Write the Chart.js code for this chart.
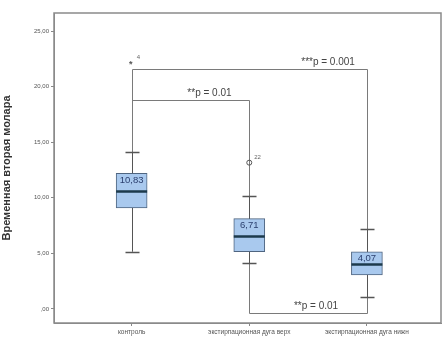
<!DOCTYPE html>
<html><head><meta charset="utf-8">
<script src="https://cdn.jsdelivr.net/npm/chart.js@4.4.0/dist/chart.umd.min.js"></script>
<style>html,body{margin:0;padding:0;background:#fff}#wrap{width:444px;height:340px}</style>
</head><body><div id="wrap"><canvas id="c" width="444" height="340"></canvas></div>
<script>
const categories = ['контроль', 'экстирпационная дуга верх', 'экстирпационная дуга нижн'];
const whiskerLow = [5.15, 4.1, 1.05];
const q1 = [9.1, 5.15, 3.06];
const median = [10.64, 6.6, 4.05];
const q3 = [12.2, 8.12, 5.15];
const whiskerHigh = [14.15, 10.16, 7.17];
const boxLabels = ['10,83', '6,71', '4,07'];
const outlierCat = [1, 2];
const outlierVal = [22.2, 13.16];
const outlierTag = ['4', '22'];
const outlierShape = ['star', 'circle'];
const bracketFrom = [1, 1, 2];
const bracketTo = [3, 2, 3];
const bracketY = [21.6, 18.8, -0.39];
const bracketText = ['***p = 0.001', '**p = 0.01', '**p = 0.01'];
const yTickValues = [0, 5, 10, 15, 20, 25];
const yTickLabels = [',00', '5,00', '10,00', '15,00', '20,00', '25,00'];
const yTitle = 'Временная вторая молара';

const lineCol = '#7a7a7a';

const boxPlugin = {
  id: 'boxplot',
  beforeDatasetsDraw(chart) {
    const {ctx, scales: {x, y}} = chart;
    ctx.save();
    ctx.strokeStyle = lineCol; ctx.lineWidth = 1;
    for (let i = 0; i < bracketY.length; i++) {
      const xa = Math.round(x.getPixelForValue(bracketFrom[i])) + 0.5;
      const xb = Math.round(x.getPixelForValue(bracketTo[i])) + 0.5;
      const yy = Math.round(y.getPixelForValue(bracketY[i])) + 0.5;
      const ia = bracketFrom[i] - 1, ib = bracketTo[i] - 1;
      const below = bracketY[i] < whiskerLow[ia];
      const ea = y.getPixelForValue(below ? whiskerLow[ia] : whiskerHigh[ia]);
      const eb = y.getPixelForValue(below ? whiskerLow[ib] : whiskerHigh[ib]);
      ctx.beginPath();
      ctx.moveTo(xa, ea); ctx.lineTo(xa, yy); ctx.lineTo(xb, yy); ctx.lineTo(xb, eb);
      ctx.stroke();
    }
    ctx.strokeStyle = '#555';
    for (let i = 0; i < categories.length; i++) {
      const cx = Math.round(x.getPixelForValue(i + 1)) + 0.5;
      const lo = y.getPixelForValue(whiskerLow[i]);
      const hi = y.getPixelForValue(whiskerHigh[i]);
      ctx.beginPath(); ctx.moveTo(cx, lo); ctx.lineTo(cx, hi); ctx.stroke();
      ctx.lineWidth = 1.5;
      ctx.beginPath();
      ctx.moveTo(cx - 7, Math.round(lo) + 0.5); ctx.lineTo(cx + 7, Math.round(lo) + 0.5);
      ctx.moveTo(cx - 7, Math.round(hi) + 0.5); ctx.lineTo(cx + 7, Math.round(hi) + 0.5);
      ctx.stroke();
      ctx.lineWidth = 1;
    }
    ctx.restore();
  },
  afterDatasetsDraw(chart) {
    const {ctx, scales: {x, y}} = chart;
    ctx.save();
    for (let i = 0; i < categories.length; i++) {
      const cx = x.getPixelForValue(i + 1);
      const my = Math.round(y.getPixelForValue(median[i])) + 0.5;
      ctx.strokeStyle = '#1d3a4c'; ctx.lineWidth = 2.5;
      ctx.beginPath(); ctx.moveTo(cx - 15.5, my); ctx.lineTo(cx + 15.5, my); ctx.stroke();
      ctx.fillStyle = '#2b3f6e';
      ctx.font = '9.5px "Liberation Sans", Arial, sans-serif';
      ctx.textAlign = 'center'; ctx.textBaseline = 'middle';
      ctx.fillText(boxLabels[i], cx, y.getPixelForValue(q3[i]) + 7);
    }
    for (let k = 0; k < outlierVal.length; k++) {
      const ox = x.getPixelForValue(outlierCat[k]);
      const oy = y.getPixelForValue(outlierVal[k]);
      ctx.strokeStyle = '#555'; ctx.fillStyle = '#555'; ctx.lineWidth = 1;
      if (outlierShape[k] === 'circle') {
        ctx.beginPath(); ctx.arc(ox, oy, 2.5, 0, Math.PI * 2); ctx.stroke();
      } else {
        ctx.font = 'bold 9px "Liberation Sans", Arial, sans-serif';
        ctx.textAlign = 'center'; ctx.textBaseline = 'middle';
        ctx.fillText('*', ox - 1, oy + 2);
      }
      ctx.font = '6px "Liberation Sans", Arial, sans-serif';
      ctx.textAlign = 'left'; ctx.textBaseline = 'middle';
      ctx.fillStyle = '#666';
      ctx.fillText(outlierTag[k], ox + 5, oy - 5);
    }
    ctx.fillStyle = '#444';
    ctx.font = '10px "Liberation Sans", Arial, sans-serif';
    ctx.textBaseline = 'bottom';
    for (let i = 0; i < bracketY.length; i++) {
      const xa = x.getPixelForValue(bracketFrom[i]);
      const xb = x.getPixelForValue(bracketTo[i]);
      const yy = y.getPixelForValue(bracketY[i]);
      let tx = (xa + xb) / 2;
      ctx.textAlign = 'center';
      if (i === 0) { ctx.textAlign = 'right'; tx = xb - 12; }
      if (i === 1) tx = (xa + xb) / 2 + 19;
      if (i === 2) tx = (xa + xb) / 2 + 8;
      ctx.fillText(bracketText[i], tx, yy - 2);
    }
    ctx.restore();
  },
  afterDraw(chart) {
    const {ctx, chartArea: a} = chart;
    ctx.save();
    ctx.strokeStyle = '#8a8a8a'; ctx.lineWidth = 1.5;
    ctx.strokeRect(a.left, a.top, a.right - a.left, a.bottom - a.top);
    ctx.restore();
  }
};

new Chart(document.getElementById('c'), {
  type: 'bar',
  data: {
    datasets: [{
      data: categories.map((c, i) => ({x: i + 1, y: [q1[i], q3[i]]})),
      backgroundColor: '#a9c9ee',
      borderColor: '#4f6580',
      borderWidth: 1,
      borderSkipped: false,
      barThickness: 31
    }]
  },
  options: {
    responsive: false,
    animation: false,
    layout: {padding: {top: 13, right: 3, left: 0, bottom: 0}},
    plugins: {legend: {display: false}, tooltip: {enabled: false}},
    scales: {
      x: {
        type: 'linear', min: 0.34, max: 3.63, offset: false,
        afterBuildTicks(s) { s.ticks = categories.map((c, i) => ({value: i + 1})); },
        afterFit(s) { s.height = 17; },
        grid: {display: true, offset: false, drawOnChartArea: false, drawTicks: true, tickLength: 3, color: '#888'},
        border: {display: true, color: '#888'},
        ticks: {
          autoSkip: false, maxRotation: 0, padding: 2,
          font: {size: 6.5, family: '"Liberation Sans", Arial, sans-serif'}, color: '#555',
          callback(v) { return categories[v - 1] || ''; }
        }
      },
      y: {
        min: -1.26, max: 26.62,
        afterBuildTicks(s) { s.ticks = yTickValues.map(v => ({value: v})); },
        afterFit(s) { s.width = 54; },
        grid: {display: true, drawOnChartArea: false, drawTicks: true, tickLength: 3, color: '#888'},
        border: {display: true, color: '#888'},
        title: {display: true, text: yTitle, color: '#333', padding: {top: 0, bottom: 4},
          font: {size: 11, weight: 'bold', family: '"Liberation Sans", Arial, sans-serif'}},
        ticks: {
          padding: 2,
          font: {size: 6, family: '"Liberation Sans", Arial, sans-serif'}, color: '#555',
          callback(v) { const i = yTickValues.indexOf(v); return i >= 0 ? yTickLabels[i] : ''; }
        }
      }
    }
  },
  plugins: [boxPlugin]
});
</script>
</body></html>
